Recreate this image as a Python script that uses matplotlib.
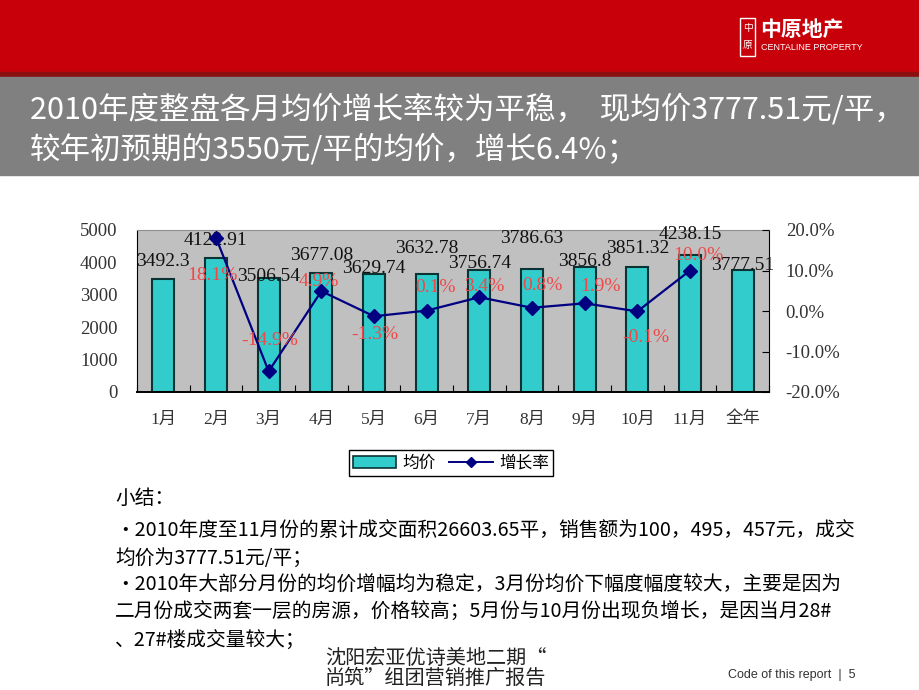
import numpy as np
import matplotlib
matplotlib.use('Agg')
import matplotlib.pyplot as plt
from matplotlib.patches import Rectangle
from matplotlib.lines import Line2D

plt.rcParams['font.family'] = ['Noto Sans CJK SC', 'DejaVu Sans']

# data
months = ['1月', '2月', '3月', '4月', '5月', '6月', '7月', '8月', '9月', '10月', '11月', '全年']
avg_price = [3492.3, 4122.91, 3506.54, 3677.08, 3629.74, 3632.78, 3756.74, 3786.63,
             3856.8, 3851.32, 4238.15, 3777.51]
growth = [np.nan, 18.1, -14.9, 4.9, -1.3, 0.1, 3.4, 0.8, 1.9, -0.1, 10.0, np.nan]

title_lines = ['2010年度整盘各月均价增长率较为平稳，  现均价3777.51元/平，',
               '较年初预期的3550元/平的均价，增长6.4%；']
notes = ['小结：',
         '•2010年度至11月份的累计成交面积26603.65平，销售额为100，495，457元，成交',
         '均价为3777.51元/平；',
         '•2010年大部分月份的均价增幅均为稳定，3月份均价下幅度幅度较大，主要是因为',
         '二月份成交两套一层的房源，价格较高；5月份与10月份出现负增长，是因当月28#',
         '、27#楼成交量较大；']

# label placement (pixels) to mimic the staggered labels of the original
price_lab_dy = [17, 18, 2, 17, 6, 26, 7, 31, 6, 19, 20, 4]
rate_lab_off = [None, (-4, -38), (1, 31), (-3, 10), (1, -18), (9, 23), (5, 11),
                (10, 22), (16, 17), (8, -26), (8, 15), None]

W, H = 920, 690
fig = plt.figure(figsize=(9.2, 6.9), dpi=100)


def fx(px):
    return px / W


def fy(py):
    return 1 - py / H


# header bands
fig.patches.append(Rectangle((0, fy(72)), 1, 72 / H, transform=fig.transFigure,
                             color='#C8000A', zorder=0))
fig.patches.append(Rectangle((0, fy(77)), 1, 5 / H, transform=fig.transFigure,
                             color='#8A1010', zorder=0))
fig.patches.append(Rectangle((0, fy(175)), 1, 98 / H, transform=fig.transFigure,
                             color='#808080', zorder=0))

# logo
fig.patches.append(Rectangle((fx(740), fy(56)), 15 / W, 38 / H, transform=fig.transFigure,
                             fill=False, edgecolor='white', linewidth=1, zorder=1))
fig.text(fx(747.5), fy(28), '中', color='white', fontsize=7, ha='center', va='center')
fig.text(fx(747.5), fy(45), '原', color='white', fontsize=7, ha='center', va='center')
fig.text(fx(760), fy(29), '中原地产', color='white', fontsize=15, fontweight='bold',
         ha='left', va='center')
fig.text(fx(761), fy(48), 'CENTALINE PROPERTY', color='white', fontsize=6.5,
         family=['Liberation Sans', 'DejaVu Sans'], ha='left', va='center')

# title
fig.text(fx(30), fy(110), title_lines[0], color='white', fontsize=22, ha='left', va='center')
fig.text(fx(30), fy(150), title_lines[1], color='white', fontsize=22, ha='left', va='center')

# chart
num_font = ['Liberation Serif', 'Noto Sans CJK SC']
ax = fig.add_axes([fx(137), fy(392), 632 / W, 162 / H])
ax.set_facecolor('#C0C0C0')
x = np.arange(len(months))
ax.bar(x, avg_price, width=0.42, color='#33CCCC', edgecolor='#0B3333', linewidth=1.5, zorder=2)
ax.set_xlim(-0.5, len(months) - 0.5)
ax.set_ylim(0, 5000)
ax.set_yticks(range(0, 5001, 1000))
ax.set_xticks(np.arange(-0.5, len(months), 1.0))
ax.set_xticklabels([])
ax.set_xticks(x, minor=True)
ax.set_xticklabels(months, minor=True, fontsize=12.5, color='#333333', family=num_font)
ax.tick_params(axis='x', which='major', direction='in', length=5, color='black')
ax.tick_params(axis='x', which='minor', length=0, pad=14)
ax.tick_params(axis='y', direction='in', length=0, pad=14, labelsize=13.5, labelcolor='#333333')
for lab in ax.get_yticklabels():
    lab.set_family(num_font)
ax.spines['top'].set_color('#909090')
ax.spines['left'].set_color('black')
ax.spines['bottom'].set_color('black')
ax.spines['bottom'].set_linewidth(1.4)
ax.spines['right'].set_color('black')

for i, v in enumerate(avg_price):
    ax.annotate(str(v), (x[i], v), xytext=(0, price_lab_dy[i]), textcoords='offset pixels',
                ha='center', va='center', fontsize=14, color='#111111', family=num_font,
                zorder=5)

ax2 = ax.twinx()
ax2.set_ylim(-20, 20)
ax2.set_yticks([-20, -10, 0, 10, 20])
ax2.set_yticklabels(['%.1f%%' % t for t in [-20, -10, 0, 10, 20]], family=num_font)
ax2.tick_params(axis='y', direction='in', length=5, pad=12, labelsize=13.5, labelcolor='#333333')
ax2.plot(x, growth, color='#000080', linewidth=1.6, marker='D', markersize=7,
         markerfacecolor='#000080', zorder=4)
for i, g in enumerate(growth):
    if rate_lab_off[i] is None:
        continue
    ax2.annotate('%.1f%%' % g, (x[i], g), xytext=rate_lab_off[i], textcoords='offset pixels',
                 ha='center', va='center', fontsize=14, color='#F04848', family=num_font,
                 zorder=5)
for sp in ax2.spines.values():
    sp.set_visible(False)

handles = [Rectangle((0, 0), 1, 1, facecolor='#33CCCC', edgecolor='#0B3333', linewidth=1.2),
           Line2D([], [], color='#000080', marker='D', markersize=5, linewidth=1.4)]
fig.legend(handles, ['均价', '增长率'], loc='center', bbox_to_anchor=(fx(451), fy(463)),
           ncol=2, fontsize=12, frameon=True, fancybox=False, edgecolor='black',
           handlelength=2.6, handletextpad=0.4, columnspacing=0.8, borderpad=0.25,
           framealpha=1)

# notes
note_y = [498, 530, 558, 585, 612, 640]
for t, yy in zip(notes, note_y):
    fig.text(fx(115), fy(yy), t, fontsize=14.2, color='black', ha='left', va='center')

# footer
fig.text(fx(325), fy(658), '沈阳宏亚优诗美地二期“', fontsize=14.5, color='#222222',
         ha='left', va='center')
fig.text(fx(325), fy(678), '尚筑”组团营销推广报告', fontsize=14.5, color='#222222',
         ha='left', va='center')
fig.text(fx(728), fy(675), 'Code of this report  |  5', fontsize=9, color='#333333',
         family=['Liberation Sans Narrow', 'Liberation Sans', 'DejaVu Sans'],
         ha='left', va='center')

fig.savefig('out.png', dpi=100)
